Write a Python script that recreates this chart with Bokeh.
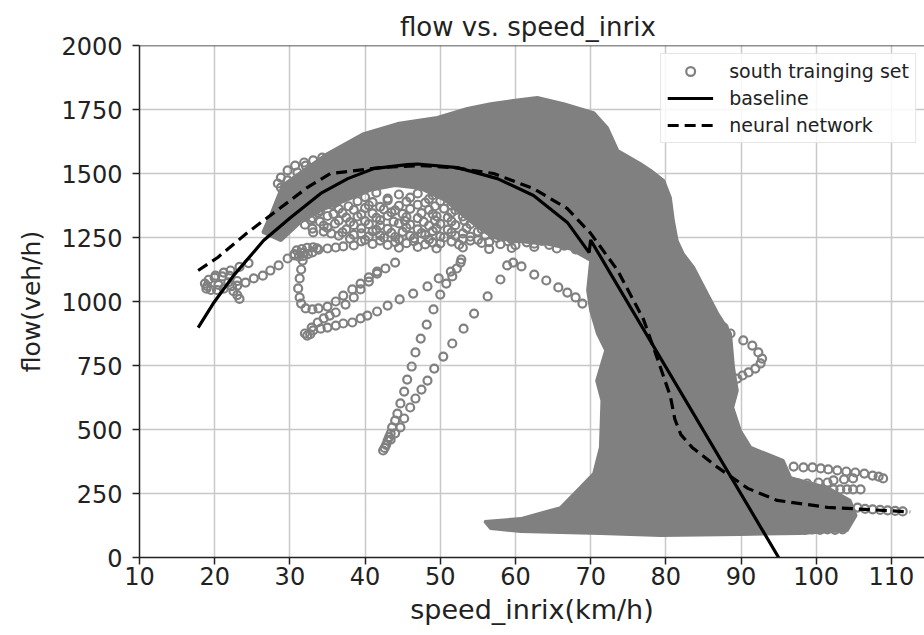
from bokeh.plotting import figure
from bokeh.models import Span, Legend, LegendItem, ColumnDataSource, FixedTicker, Range1d
from bokeh.embed import file_html
from bokeh.resources import INLINE

FONT = "DejaVu Sans"
GRAY = "#808080"

x_ticks = [10, 20, 30, 40, 50, 60, 70, 80, 90, 100, 110]
y_ticks = [0, 250, 500, 750, 1000, 1250, 1500, 1750, 2000]

# ---- baseline model (solid) ----
base_x = [17.8, 19.8, 22.5, 26.5, 30.1, 34.1, 37.7, 41.1, 45.6, 47.0, 52.3, 57.6, 62.4, 66.9, 69.8, 70.0, 95.0]
base_y = [898, 992, 1101, 1238, 1328, 1422, 1480, 1519, 1535, 1537, 1523, 1480, 1414, 1309, 1191, 1240, 0]

# ---- neural network (dashed) ----
nn_x = [17.8, 20.4, 24.4, 28.8, 32.3, 35.4, 40.3, 42.0, 47.4, 51.8, 57.1, 62.4, 66.9, 70.0, 73.6, 77.0,
        78.9, 80.6, 81.2, 82.0, 83.5, 86.9, 90.9, 94.8, 101.5, 106.5, 112.5]
nn_y = [1121, 1172, 1270, 1367, 1445, 1500, 1517, 1523, 1531, 1523, 1500, 1441, 1363, 1266, 1121, 932,
        775, 630, 540, 480, 430, 352, 270, 223, 196, 188, 178]

# ---- dense part of the south training set (solid cloud outline) ----
dense_x = [26.4, 27.4, 29.0, 31.4, 35.0, 39.8, 44.3, 49.6, 53.6, 56.7, 59.7, 62.9, 66.4, 70.4, 72.2, 73.6,
           76.6, 78.0, 79.7, 80.6, 81.0, 81.5, 82.3, 83.7, 85.5, 86.9, 88.6, 89.0, 89.5, 88.9, 89.9, 91.3,
           95.6, 96.6, 101.5, 104.5, 105.3, 104.1, 97.9, 89.9, 79.3, 71.3, 66.0, 60.7, 56.7, 55.9, 60.7,
           66.0, 68.6, 70.4, 71.3, 71.5, 70.8, 72.0, 70.9, 70.0, 69.6, 70.0, 67.3, 64.0, 60.0, 57.0, 55.0,
           53.0, 50.7, 47.4, 44.0, 40.7, 37.4, 34.1, 31.4, 28.8]
dense_y = [1270, 1336, 1453, 1504, 1578, 1656, 1695, 1719, 1754, 1773, 1785, 1797, 1773, 1738, 1680, 1590,
           1539, 1512, 1473, 1406, 1316, 1238, 1187, 1133, 1031, 953, 875, 742, 652, 586, 496, 430,
           379, 312, 273, 223, 164, 105, 94, 90, 86, 94, 98, 102, 113, 141, 152,
           195, 273, 328, 430, 613, 691, 809, 875, 965, 1043, 1160, 1205, 1225, 1235, 1250, 1290,
           1336, 1394, 1441, 1453, 1434, 1394, 1355, 1309, 1238]

# ---- sparse trajectories of the south training set ----
tail_a_x = [42.4, 42.6, 42.8, 43.0, 43.2, 43.4, 43.6, 44.0, 44.3, 44.7, 45.2, 45.6, 46.2, 46.7, 47.4, 48.2,
            49.1, 50.0, 50.8, 51.6, 52.2, 52.8]
tail_a_y = [418, 428, 440, 457, 470, 484, 508, 535, 562, 602, 648, 695, 746, 801, 855, 910,
            969, 1027, 1070, 1098, 1129, 1164]

arc_r_x = [43.4, 44.0, 44.7, 45.2, 46.0, 46.7, 47.5, 48.3, 49.2, 50.4, 51.6, 53.1, 54.5, 56.3, 58.0, 58.9]
arc_r_y = [460, 485, 508, 543, 586, 621, 656, 691, 738, 785, 836, 894, 953, 1020, 1086, 1141]

arc_d_x = [59.7, 60.8, 62.5, 64.1, 65.7, 66.9, 68.0, 68.9]
arc_d_y = [1152, 1137, 1105, 1082, 1055, 1035, 1016, 992]

traj_b_low_x = [32.0, 32.3, 32.7, 33.1, 34.1, 35.0, 36.1, 37.1, 38.3, 39.4, 40.3, 41.6, 43.0, 44.6, 46.4,
                48.3, 49.8, 51.4, 52.7]
traj_b_low_y = [875, 867, 872, 887, 894, 898, 906, 914, 918, 934, 945, 961, 984, 1008, 1031,
                1059, 1090, 1117, 1152]
traj_b_up_x = [32.9, 33.7, 34.5, 35.3, 36.1, 37.4, 38.5, 39.4, 40.5, 41.6, 42.7, 44.0]
traj_b_up_y = [898, 918, 934, 945, 957, 988, 1016, 1047, 1078, 1109, 1129, 1152]

hook_x = [31.8, 31.7, 31.5, 31.3, 31.1, 31.3, 31.5, 32.1, 33.0, 33.8, 35.0, 36.1, 37.1, 38.3, 39.4, 40.5, 41.6]
hook_y = [1191, 1160, 1125, 1090, 1051, 1016, 992, 973, 969, 973, 980, 1000, 1023, 1047, 1070, 1094, 1117]

row_c_x = [23.0, 24.1, 25.2, 26.4, 27.4, 28.5, 29.7, 30.6, 20.1, 21.2, 22.1, 23.3, 24.5]
row_c_y = [1062, 1074, 1090, 1101, 1121, 1141, 1168, 1185, 1101, 1113, 1121, 1135, 1150]

blob_left_x = [18.7, 19.2, 20.0, 21.0, 22.0, 18.9, 19.5, 20.3, 21.2, 22.5, 23.0, 23.3, 22.3, 23.0, 19.0,
               20.5, 21.8]
blob_left_y = [1070, 1085, 1093, 1098, 1100, 1050, 1045, 1045, 1050, 1040, 1025, 1010, 1060, 1080, 1060,
               1065, 1075]

blob_mid_x = [30.6, 31.2, 31.8, 32.4, 33.0, 30.9, 31.6, 32.3, 33.1, 33.6, 33.8, 35.0, 36.1, 37.1, 38.5]
blob_mid_y = [1180, 1175, 1178, 1185, 1192, 1200, 1205, 1210, 1212, 1208, 1203, 1207, 1211, 1215, 1219]

loop_ul_x = [28.4, 28.8, 29.7, 30.7, 31.9, 33.1, 34.3, 28.8, 29.7, 30.7, 29.7, 31.0, 32.1]
loop_ul_y = [1461, 1484, 1512, 1531, 1543, 1551, 1562, 1445, 1441, 1434, 1473, 1504, 1531]

under_arch_x = [38.5, 41.5, 44.5, 47.0, 49.0,
                37.0, 40.0, 43.0, 46.0, 48.5, 51.0,
                34.5, 36.0, 39.0, 41.0, 43.0, 45.5, 48.0, 50.0,
                33.5, 35.5, 37.8, 40.5, 42.0, 44.5, 47.0, 49.3, 51.5,
                32.5, 34.0, 36.5, 38.5, 40.0, 42.5, 44.0, 46.0, 48.5, 50.5, 52.0,
                31.8, 33.8, 35.8, 37.0, 39.5, 41.0, 43.5, 45.0, 47.5, 49.0, 51.5, 53.5,
                31.0, 33.0, 35.0, 37.5, 39.0, 41.5, 43.0, 45.5, 47.0, 49.5, 51.0, 53.0, 54.5,
                30.8, 32.8, 34.0, 36.5, 38.0, 40.0, 42.0, 43.8, 45.3, 47.8, 49.3, 51.5, 53.2, 55.0, 56.5,
                32.0, 34.5, 36.0, 38.5, 40.5, 42.0, 44.5, 46.0, 48.5, 50.0, 52.0, 54.0, 55.5, 57.5,
                33.0, 35.0, 37.5, 39.5, 41.5, 43.0, 45.5, 47.0, 49.5, 51.0, 53.5, 55.5, 57.0, 59.0, 61.0,
                33.1, 34.5, 35.5, 37.0, 39.5, 41.0, 43.5, 45.0, 47.5, 49.0, 51.5, 53.0, 55.0, 57.0, 58.5, 60.5, 62.0,
                36.5, 38.5, 40.5, 42.0, 44.0, 46.0, 48.0, 50.0, 52.0, 54.0, 56.0, 58.0, 60.0, 62.5, 64.5, 66.0,
                38.0, 40.0, 42.5, 44.5, 46.5, 48.5, 50.5, 53.0, 55.0, 57.5, 59.5, 61.5, 63.5, 65.5, 67.0,
                39.5, 42.0, 44.0, 46.5, 49.0, 51.5, 54.0, 56.5, 59.0, 61.5, 63.5, 65.5, 67.5,
                41.0, 43.0, 45.5, 48.0, 50.0, 52.5, 55.5, 58.0, 60.0, 62.5, 64.5, 66.5, 68.5,
                44.5, 47.0, 49.5, 53.0, 56.5, 59.5, 62.5, 65.5, 68.0]
under_arch_y = [1420, 1425, 1418, 1422, 1415,
                1405, 1408, 1402, 1406, 1400, 1404,
                1390, 1385, 1392, 1388, 1395, 1390, 1386, 1392,
                1375, 1378, 1372, 1376, 1370, 1374, 1378, 1372, 1375,
                1360, 1355, 1362, 1358, 1365, 1360, 1356, 1362, 1358, 1363, 1357,
                1345, 1348, 1342, 1346, 1340, 1344, 1348, 1342, 1345, 1341, 1347, 1343,
                1330, 1326, 1334, 1328, 1332, 1327, 1335, 1330, 1326, 1333, 1328, 1332, 1327,
                1315, 1318, 1312, 1316, 1310, 1314, 1318, 1312, 1315, 1311, 1317, 1313, 1316, 1312, 1310,
                1300, 1296, 1304, 1298, 1302, 1297, 1305, 1300, 1296, 1303, 1298, 1302, 1297, 1300,
                1285, 1288, 1282, 1286, 1280, 1284, 1288, 1282, 1285, 1281, 1287, 1283, 1286, 1282, 1280,
                1270, 1273, 1266, 1270, 1266, 1274, 1268, 1272, 1267, 1275, 1270, 1266, 1273, 1268, 1272, 1267, 1265,
                1257, 1260, 1254, 1258, 1252, 1256, 1260, 1254, 1257, 1253, 1259, 1255, 1258, 1254, 1252, 1250,
                1245, 1241, 1249, 1243, 1247, 1242, 1250, 1245, 1241, 1248, 1243, 1247, 1242, 1240, 1236,
                1235, 1238, 1232, 1236, 1230, 1234, 1238, 1232, 1235, 1231, 1237, 1233, 1230,
                1225, 1221, 1228, 1223, 1227, 1222, 1229, 1224, 1220, 1226, 1221, 1218, 1214,
                1210, 1213, 1207, 1211, 1205, 1209, 1213, 1207, 1204]

loop_right_x = [84.6, 85.9, 86.9, 87.7, 88.6, 90.3, 91.5, 92.3, 92.8, 92.6, 91.9, 91.0, 90.2, 89.5]
loop_right_y = [977, 953, 926, 898, 875, 848, 828, 801, 777, 758, 738, 723, 711, 699]

tail_right_x = [97.0, 98.3, 99.5, 100.6, 101.6, 102.8, 104.0, 105.2, 106.4, 107.5, 108.3, 108.9,
                94.8, 96.6, 97.6, 98.8, 100.3, 101.5, 102.3, 103.7, 104.9, 102.3, 103.2, 104.1, 104.9, 105.9,
                105.5, 106.5, 107.5, 108.5, 109.5, 110.5, 111.5,
                98.5, 99.5, 100.5, 101.5, 102.5, 103.5]
tail_right_y = [355, 352, 352, 348, 344, 340, 336, 332, 328, 320, 316, 309,
                289, 289, 289, 289, 293, 293, 301, 305, 309, 266, 266, 266, 266, 266,
                195, 190, 188, 186, 184, 182, 180,
                108, 110, 108, 110, 108, 110]

groups_x = [tail_a_x, arc_r_x, arc_d_x, traj_b_low_x, traj_b_up_x, hook_x, row_c_x, blob_left_x,
            blob_mid_x, loop_ul_x, under_arch_x, loop_right_x, tail_right_x]
groups_y = [tail_a_y, arc_r_y, arc_d_y, traj_b_low_y, traj_b_up_y, hook_y, row_c_y, blob_left_y,
            blob_mid_y, loop_ul_y, under_arch_y, loop_right_y, tail_right_y]
pts_x, pts_y = [], []
for gx, gy in zip(groups_x, groups_y):
    pts_x += gx
    pts_y += gy
pts = ColumnDataSource(dict(x=pts_x, y=pts_y))

p = figure(width=924, height=635, x_range=Range1d(10, 114.4), y_range=Range1d(0, 2000),
           output_backend="svg", toolbar_location=None,
           min_border_left=139, min_border_right=0, min_border_top=45, min_border_bottom=78,
           title="flow  vs. speed_inrix")
p.background_fill_color = "white"
p.border_fill_color = "white"
p.outline_line_color = None

p.title.align = "center"
p.title.text_font = FONT
p.title.text_font_size = "26px"
p.title.text_font_style = "normal"
p.title.text_color = "#222222"
p.title.standoff = 8

for ax in (p.xaxis[0], p.yaxis[0]):
    ax.axis_line_color = "#222222"
    ax.axis_line_width = 1.5
    ax.major_tick_line_color = "#222222"
    ax.major_tick_line_width = 1.5
    ax.major_tick_out = 7
    ax.major_tick_in = 0
    ax.minor_tick_line_color = None
    ax.major_label_text_font = FONT
    ax.major_label_text_font_size = "24px"
    ax.major_label_text_color = "#222222"
    ax.axis_label_text_font = FONT
    ax.axis_label_text_font_style = "normal"
    ax.axis_label_text_color = "#222222"

p.xaxis.axis_label_text_font_size = "27px"
p.yaxis.axis_label_text_font_size = "25px"
p.xaxis.ticker = FixedTicker(ticks=x_ticks)
p.yaxis.ticker = FixedTicker(ticks=y_ticks)
p.xaxis.axis_label = "speed_inrix(km/h)"
p.yaxis.axis_label = "flow(veh/h)"
p.xaxis.major_label_standoff = 2
p.xaxis.axis_label_standoff = 6
p.yaxis.major_label_standoff = 10
p.yaxis.axis_label_standoff = 12

p.grid.grid_line_color = "#c8c8c8"
p.grid.grid_line_width = 1.5

p.add_layout(Span(location=2000, dimension="width", line_color="#222222", line_width=1.5))

p.patch(dense_x, dense_y, fill_color=GRAY, line_color=GRAY, line_width=3)
sc = p.scatter("x", "y", source=pts, marker="circle", size=8, fill_color=None,
               line_color=GRAY, line_width=2.2)
bl = p.line(base_x, base_y, line_color="black", line_width=3.2)
nn = p.line(nn_x, nn_y, line_color="black", line_width=3.2, line_dash="11 6")

legend = Legend(items=[LegendItem(label="south trainging set", renderers=[sc]),
                       LegendItem(label="baseline", renderers=[bl]),
                       LegendItem(label="neural network", renderers=[nn])],
                location="top_right")
legend.margin = 8
legend.padding = 6
legend.spacing = 5
legend.label_text_font = FONT
legend.label_text_font_size = "19px"
legend.label_text_color = "#222222"
legend.glyph_width = 46
legend.glyph_height = 22
legend.label_height = 22
legend.label_standoff = 16
legend.border_line_color = "#cccccc"
legend.border_line_width = 1.5
legend.background_fill_alpha = 0.85
p.add_layout(legend)

open("out.html", "w").write(file_html(p, INLINE))
